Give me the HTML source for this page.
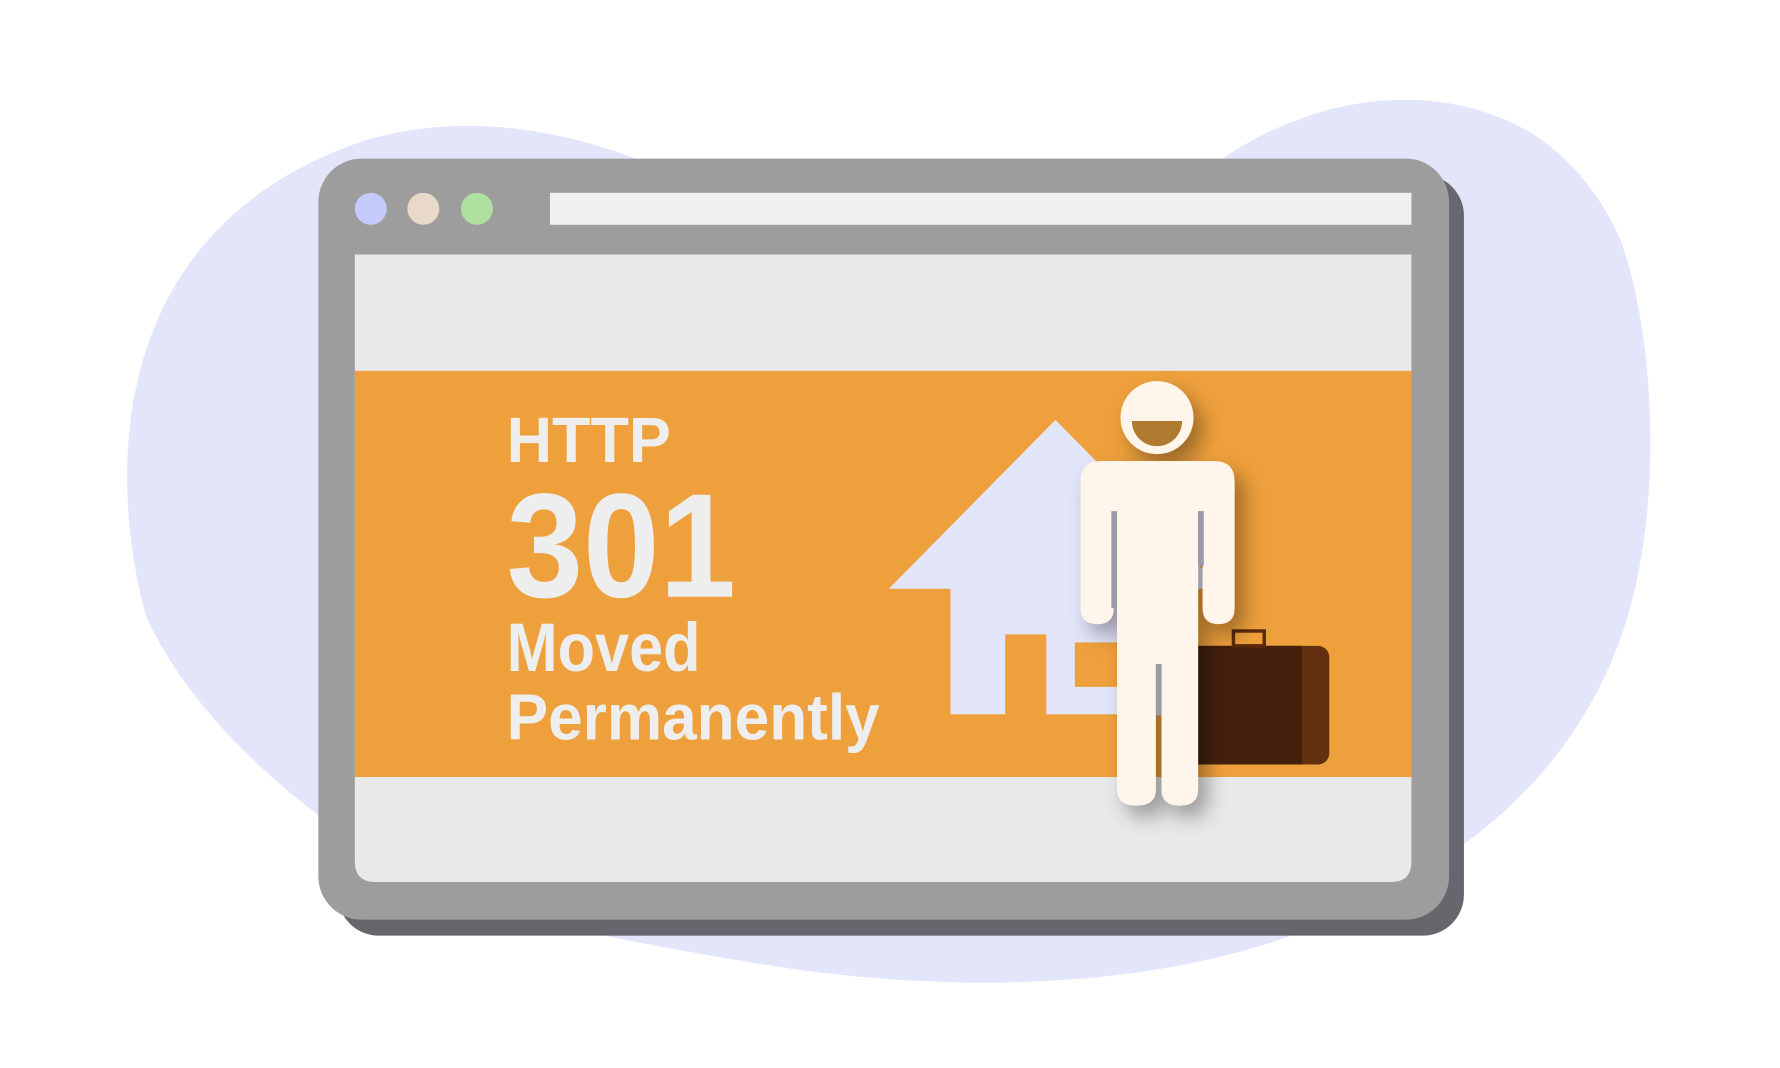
<!DOCTYPE html>
<html><head><meta charset="utf-8"><style>html,body{margin:0;padding:0;background:#fff;overflow:hidden}svg{display:block}</style></head>
<body>
<svg width="1780" height="1068" viewBox="0 0 1560 936" xmlns="http://www.w3.org/2000/svg">
<defs>
<filter id="sh" x="-40%" y="-20%" width="180%" height="150%"><feDropShadow dx="8" dy="10" stdDeviation="9" flood-color="#000" flood-opacity="0.35"/></filter>
<clipPath id="band"><rect x="311" y="325" width="926" height="356"/></clipPath>
</defs>
<rect width="1560" height="936" fill="#fff"/>
<path fill="#e3e5fb" d="M128,540 C95,420 90,200 320,123 C400,100 480,110 560,140 L1070,140 C1150,85 1250,70 1330,110 C1380,135 1410,185 1420,210 C1450,290 1460,450 1420,560 C1380,670 1300,740 1200,790 C1050,870 850,870 700,850 C600,835 500,815 440,800 L280,715 C200,655 150,590 128,540 Z"/>
<rect x="296" y="153" width="987" height="667" rx="36" fill="#66666d"/>
<rect x="279" y="139" width="991" height="667" rx="38" fill="#9d9d9d"/>
<circle cx="325" cy="183" r="14" fill="#c5cafc"/>
<circle cx="371" cy="183" r="14" fill="#e8d9c8"/>
<circle cx="418" cy="183" r="14" fill="#b0e0a0"/>
<rect x="482" y="169" width="755" height="28" fill="#f0f0f0"/>
<path d="M311,223 H1237 V755 Q1237,773 1219,773 H329 Q311,773 311,755 Z" fill="#e9e9e9"/>
<rect x="311" y="325" width="926" height="356" fill="#eea03c"/>
<polygon fill="#e3e5fb" points="925,368 1071,516 1017,516 1017,626 917,626 917,556 881,556 881,626 833,626 833,516 779,516"/>
<rect x="942" y="563" width="60" height="39" fill="#eea03c"/>
<g font-family="Liberation Sans, sans-serif" font-weight="bold" fill="#eeeeee">
<text x="444" y="405" font-size="56" textLength="144" lengthAdjust="spacingAndGlyphs">HTTP</text>
<text x="444" y="523" font-size="130" textLength="201" lengthAdjust="spacingAndGlyphs">301</text>
<text x="444" y="588" font-size="60" textLength="170" lengthAdjust="spacingAndGlyphs">Moved</text>
<text x="444" y="648" font-size="57" textLength="327" lengthAdjust="spacingAndGlyphs">Permanently</text>
</g>
<g clip-path="url(#band)">
<rect x="1050" y="566" width="115" height="104" rx="10" fill="#62300f"/>
<rect x="1040" y="566" width="101" height="104" fill="#43200c"/>
<rect x="1081" y="553" width="27" height="13" fill="none" stroke="#5a2a0a" stroke-width="3"/>
</g>
<g filter="url(#sh)" fill="#fff5ea">
<circle cx="1014" cy="366" r="32"/>
<path d="M965,404 H1064 Q1082,404 1082,422 V533 Q1082,547 1068,547 Q1054,547 1054,533 V448 H1050 V692 Q1050,706 1034,706 Q1018,706 1018,692 V582 H1013 V692 Q1013,706 996,706 Q979,706 979,692 V448 H976 V533 Q976,547 962,547 Q947,547 947,533 V422 Q947,404 965,404 Z"/>
</g>
<path d="M992,369 H1036 A22,22 0 0 1 992,369 Z" fill="#b07a30"/>
<rect x="974" y="448" width="5" height="85" fill="#9a9aa8"/>
<rect x="1050" y="448" width="5" height="48" fill="#9a9aa8"/>
<rect x="1013" y="582" width="5" height="45" fill="#9a9aa8"/>
</svg>
</body></html>
